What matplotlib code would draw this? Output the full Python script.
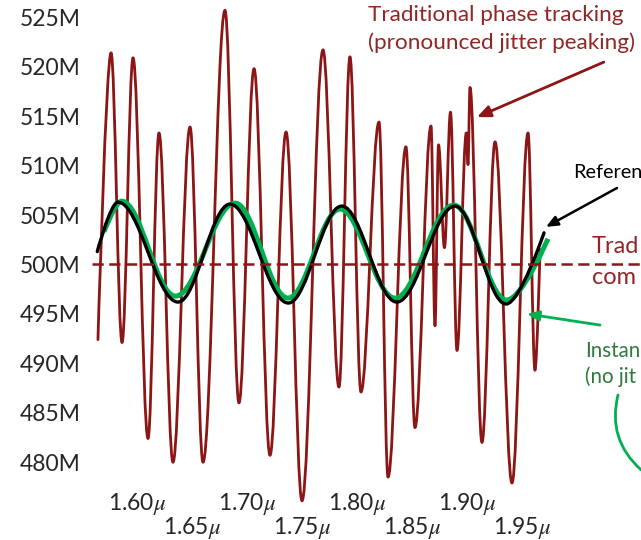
import numpy as np
import matplotlib
matplotlib.use('Agg')
import matplotlib.pyplot as plt
from matplotlib.path import Path
from matplotlib.patches import PathPatch

plt.rcParams['font.family'] = ['Lato', 'DejaVu Sans']
plt.rcParams['mathtext.fontset'] = 'stix'

# time axis in microseconds, frequency in MHz
# traditional phase tracking: turning points of the jittery trace
trad_t = [1.5645, 1.5764, 1.5864, 1.5964, 1.6100, 1.6200, 1.6327, 1.6482, 1.6600,
          1.6800, 1.6927, 1.7064, 1.7209, 1.7355, 1.7500, 1.7691, 1.7836, 1.7936,
          1.8036, 1.8200, 1.8282, 1.8445, 1.8527, 1.8673, 1.8709, 1.8741, 1.8795,
          1.8850, 1.8909, 1.8994, 1.9009, 1.9027, 1.9136, 1.9255, 1.9409, 1.9555,
          1.9618, 1.9664]
trad_f = [492.4, 521.4, 492.1, 520.9, 482.4, 513.3, 480.0, 513.9, 480.0,
          525.7, 486.0, 519.8, 480.7, 513.4, 476.1, 521.7, 487.6, 521.0,
          487.1, 514.4, 478.5, 511.9, 483.5, 514.0, 493.8, 512.1, 501.7,
          515.4, 491.3, 513.3, 510.1, 517.9, 482.0, 512.4, 477.9, 513.3,
          489.3, 501.5]

# reference clock
ref_t = [1.5639, 1.5827, 1.6373, 1.6845, 1.7376, 1.7861, 1.8361, 1.8891, 1.9355, 1.9700]
ref_f = [501.3, 506.3, 496.2, 506.1, 496.1, 505.9, 496.2, 505.9, 496.0, 503.2]

# instantaneous tracking
inst_t = [1.5700, 1.5861, 1.6350, 1.6891, 1.7373, 1.7845, 1.8345, 1.8880, 1.9361, 1.9736]
inst_f = [503.3, 506.4, 496.8, 506.2, 496.6, 505.6, 496.6, 506.0, 496.4, 502.6]

nominal = 500

yticks = [480, 485, 490, 495, 500, 505, 510, 515, 520, 525]
ytick_labels = [f'{v}M' for v in yticks]
xticks_top = [1.60, 1.70, 1.80, 1.90]
xticks_bot = [1.65, 1.75, 1.85, 1.95]


def smooth_path(xs, ys, h=0.3634):
    # bezier through turning points, flat tangents at peaks/troughs
    verts = [(xs[0], ys[0])]
    codes = [Path.MOVETO]
    n = len(xs)
    for i in range(n - 1):
        dx = xs[i + 1] - xs[i]
        h0 = 0 if i == 0 else h
        h1 = 0 if i + 1 == n - 1 else h
        verts += [(xs[i] + h0 * dx, ys[i]), (xs[i + 1] - h1 * dx, ys[i + 1]),
                  (xs[i + 1], ys[i + 1])]
        codes += [Path.CURVE4] * 3
    return Path(verts, codes)


brown = '#8c1515'
brown_txt = '#922626'
green = '#00b050'
green_txt = '#2f7a3a'

fig = plt.figure(figsize=(6.41, 5.40), dpi=100)
ax = fig.add_axes([0, 0, 1, 1])
ax.set_xlim(1.47545, 2.05818)
ax.set_ylim(472.14, 526.74)
for s in ax.spines.values():
    s.set_visible(False)

ax.axhline(nominal, xmin=92 / 641, xmax=1, color=brown, lw=1.8, dashes=(4.5, 2.2))

ax.add_patch(PathPatch(smooth_path(trad_t, trad_f), fill=False, ec=brown, lw=2.0,
                       capstyle='round', joinstyle='round'))
ax.add_patch(PathPatch(smooth_path(inst_t, inst_f), fill=False, ec=green, lw=3.6,
                       capstyle='butt'))
ax.add_patch(PathPatch(smooth_path(ref_t, ref_f), fill=False, ec='black', lw=2.4,
                       capstyle='round'))

ax.set_yticks(yticks)
ax.set_yticklabels(ytick_labels)
ax.tick_params(axis='y', length=0, pad=-58, labelsize=16.5, labelcolor='#262626')
ax.set_xticks(xticks_top)
ax.set_xticklabels([f'{v:.2f}$\\mu$' for v in xticks_top])
ax.set_xticks(xticks_bot, minor=True)
ax.set_xticklabels([f'{v:.2f}$\\mu$' for v in xticks_bot], minor=True)
ax.tick_params(axis='x', which='major', length=0, pad=-35, labelsize=16.5,
               labelcolor='#262626')
ax.tick_params(axis='x', which='minor', length=0, pad=-18, labelsize=16.5,
               labelcolor='#262626')

ax.text(368 / 641, 1 - 5 / 540, 'Traditional phase tracking\n(pronounced jitter peaking)',
        transform=ax.transAxes, ha='left', va='top', color=brown_txt, fontsize=16.2,
        linespacing=1.45)
ax.annotate('', xy=(1.9091, 514.9), xytext=(0.942, 0.885), textcoords='axes fraction',
            arrowprops=dict(arrowstyle='-|>,head_length=0.8,head_width=0.35',
                            color=brown, lw=2.0, shrinkA=0, shrinkB=0))

# labels on the right run off the edge of the slide in the original
ax.text(573 / 641, 1 - 173 / 540, 'Referen', transform=ax.transAxes, ha='left',
        va='center', color='black', fontsize=14.3)
ax.annotate('', xy=(1.9718, 503.8), xytext=(0.9626, 0.6519), textcoords='axes fraction',
            arrowprops=dict(arrowstyle='-|>,head_length=0.7,head_width=0.3',
                            color='black', lw=1.8, shrinkA=0, shrinkB=0))

ax.text(592 / 641, 1 - 262 / 540, 'Trad\ncom', transform=ax.transAxes,
        ha='left', va='center', color=brown_txt, fontsize=17, linespacing=1.6)

ax.text(585 / 641, 1 - 364 / 540, 'Instan\n(no jit',
        transform=ax.transAxes, ha='left', va='center', color=green_txt, fontsize=14.8,
        linespacing=1.35)
ax.annotate('', xy=(1.9545, 495.0), xytext=(0.936, 0.398), textcoords='axes fraction',
            arrowprops=dict(arrowstyle='-|>,head_length=0.7,head_width=0.3',
                            color=green, lw=2.0, shrinkA=0, shrinkB=0))
ax.annotate('', xy=(1.0, 0.13), xytext=(618 / 641, 1 - 395 / 540), xycoords='axes fraction',
            textcoords='axes fraction',
            arrowprops=dict(arrowstyle='-', color=green, lw=2.0, shrinkA=0, shrinkB=0,
                            connectionstyle='arc3,rad=0.3'))

fig.savefig('out.png', dpi=100)
